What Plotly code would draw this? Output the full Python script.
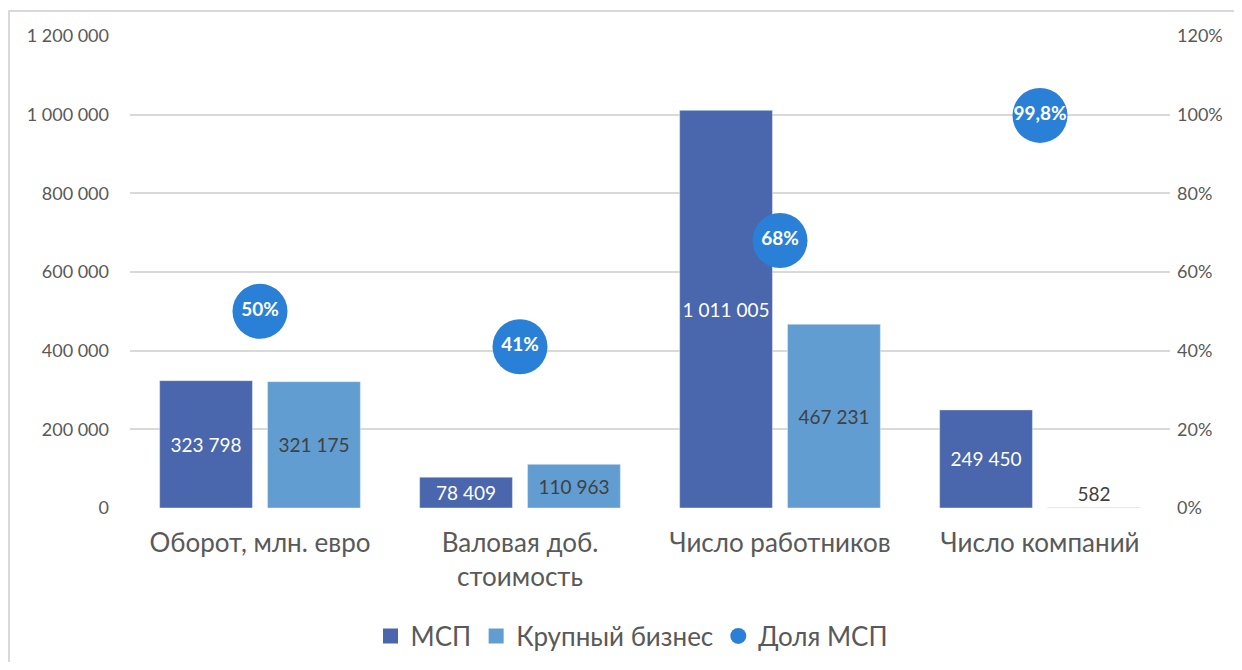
import plotly.graph_objects as go

categories = ["Оборот, млн. евро", "Валовая доб.<br>стоимость", "Число работников", "Число компаний"]
msp = [323798, 78409, 1011005, 249450]
large = [321175, 110963, 467231, 582]
share = [0.50, 0.41, 0.68, 0.998]
left_ticks = [0, 200000, 400000, 600000, 800000, 1000000, 1200000]
right_ticks = [0, 0.2, 0.4, 0.6, 0.8, 1.0, 1.2]

FONT = "Lato"
GRAY = "#595959"
C_MSP, C_LARGE, C_SHARE = "#4A66AC", "#629DD1", "#2A7FD6"

share_text = [f"{v*100:g}%".replace(".", ",") for v in share]

fig = go.Figure()
fig.add_trace(go.Bar(
    x=categories, y=msp, name="МСП", marker_color=C_MSP, showlegend=False,
    texttemplate="%{y:,d}", textposition="inside", insidetextanchor="middle",
    textangle=0,
    textfont=dict(color="white", size=19, family=FONT), constraintext="none",
    cliponaxis=False,
))
fig.add_trace(go.Bar(
    x=categories, y=large, name="Крупный бизнес", marker_color=C_LARGE, showlegend=False,
    texttemplate="%{y:,d}", textposition=["inside", "inside", "inside", "outside"],
    insidetextanchor="middle", textangle=0,
    textfont=dict(color="#404040", size=19, family=FONT), constraintext="none",
    cliponaxis=False,
))
fig.add_trace(go.Scatter(
    x=categories, y=share, yaxis="y2", mode="markers+text", text=share_text,
    textposition="middle center", showlegend=False, name="Доля МСП",
    marker=dict(size=55, color=C_SHARE),
    textfont=dict(color="white", size=19, family=FONT, weight="bold"),
    cliponaxis=False,
))
# legend-only entries
for nm, col, sym in [("МСП", C_MSP, "square"), ("Крупный бизнес", C_LARGE, "square"),
                     ("Доля МСП", C_SHARE, "circle")]:
    fig.add_trace(go.Scatter(
        x=[None], y=[None], mode="markers", name=nm,
        marker=dict(size=15 if sym == "square" else 17, color=col, symbol=sym),
    ))

W, H = 1226, 654
L, T = 122, 28
PW, PH = 1040, 472

fig.update_layout(
    width=W, height=H,
    margin=dict(l=L, r=W - L - PW, t=T, b=H - T - PH, autoexpand=False),
    paper_bgcolor="white", plot_bgcolor="white",
    separators=", ",
    font=dict(family=FONT, color=GRAY, size=18),
    barmode="group", bargap=0.17, bargroupgap=0.14,
    xaxis=dict(tickfont=dict(size=26, color=GRAY), showgrid=False, ticks="",
               showline=False, zeroline=False, ticklabelstandoff=17, automargin=False),
    yaxis=dict(range=[0, 1200000], tickvals=left_ticks, tickformat=",d",
               gridcolor="#D9D9D9", gridwidth=1.5, zeroline=False, showline=False,
               ticklabelstandoff=20, tickfont=dict(size=18, color=GRAY), automargin=False),
    yaxis2=dict(range=[0, 1.2], tickvals=right_ticks, tickformat=".0%",
                overlaying="y", side="right", showgrid=False, zeroline=False,
                showline=False, ticklabelstandoff=6, tickfont=dict(size=18, color=GRAY),
                automargin=False),
    legend=dict(orientation="h", x=(624 - L) / PW, xanchor="center",
                y=(T + PH - 628) / PH, yanchor="middle",
                font=dict(size=26, color=GRAY), itemsizing="trace",
                traceorder="normal"),
    shapes=[dict(type="rect", xref="paper", yref="paper",
                 x0=(1 - L) / PW, x1=1.3,
                 y0=-0.6, y1=(T + PH - 3) / PH,
                 line=dict(color="#D9D9D9", width=2), layer="below")],
)

fig.write_html("out.html")
